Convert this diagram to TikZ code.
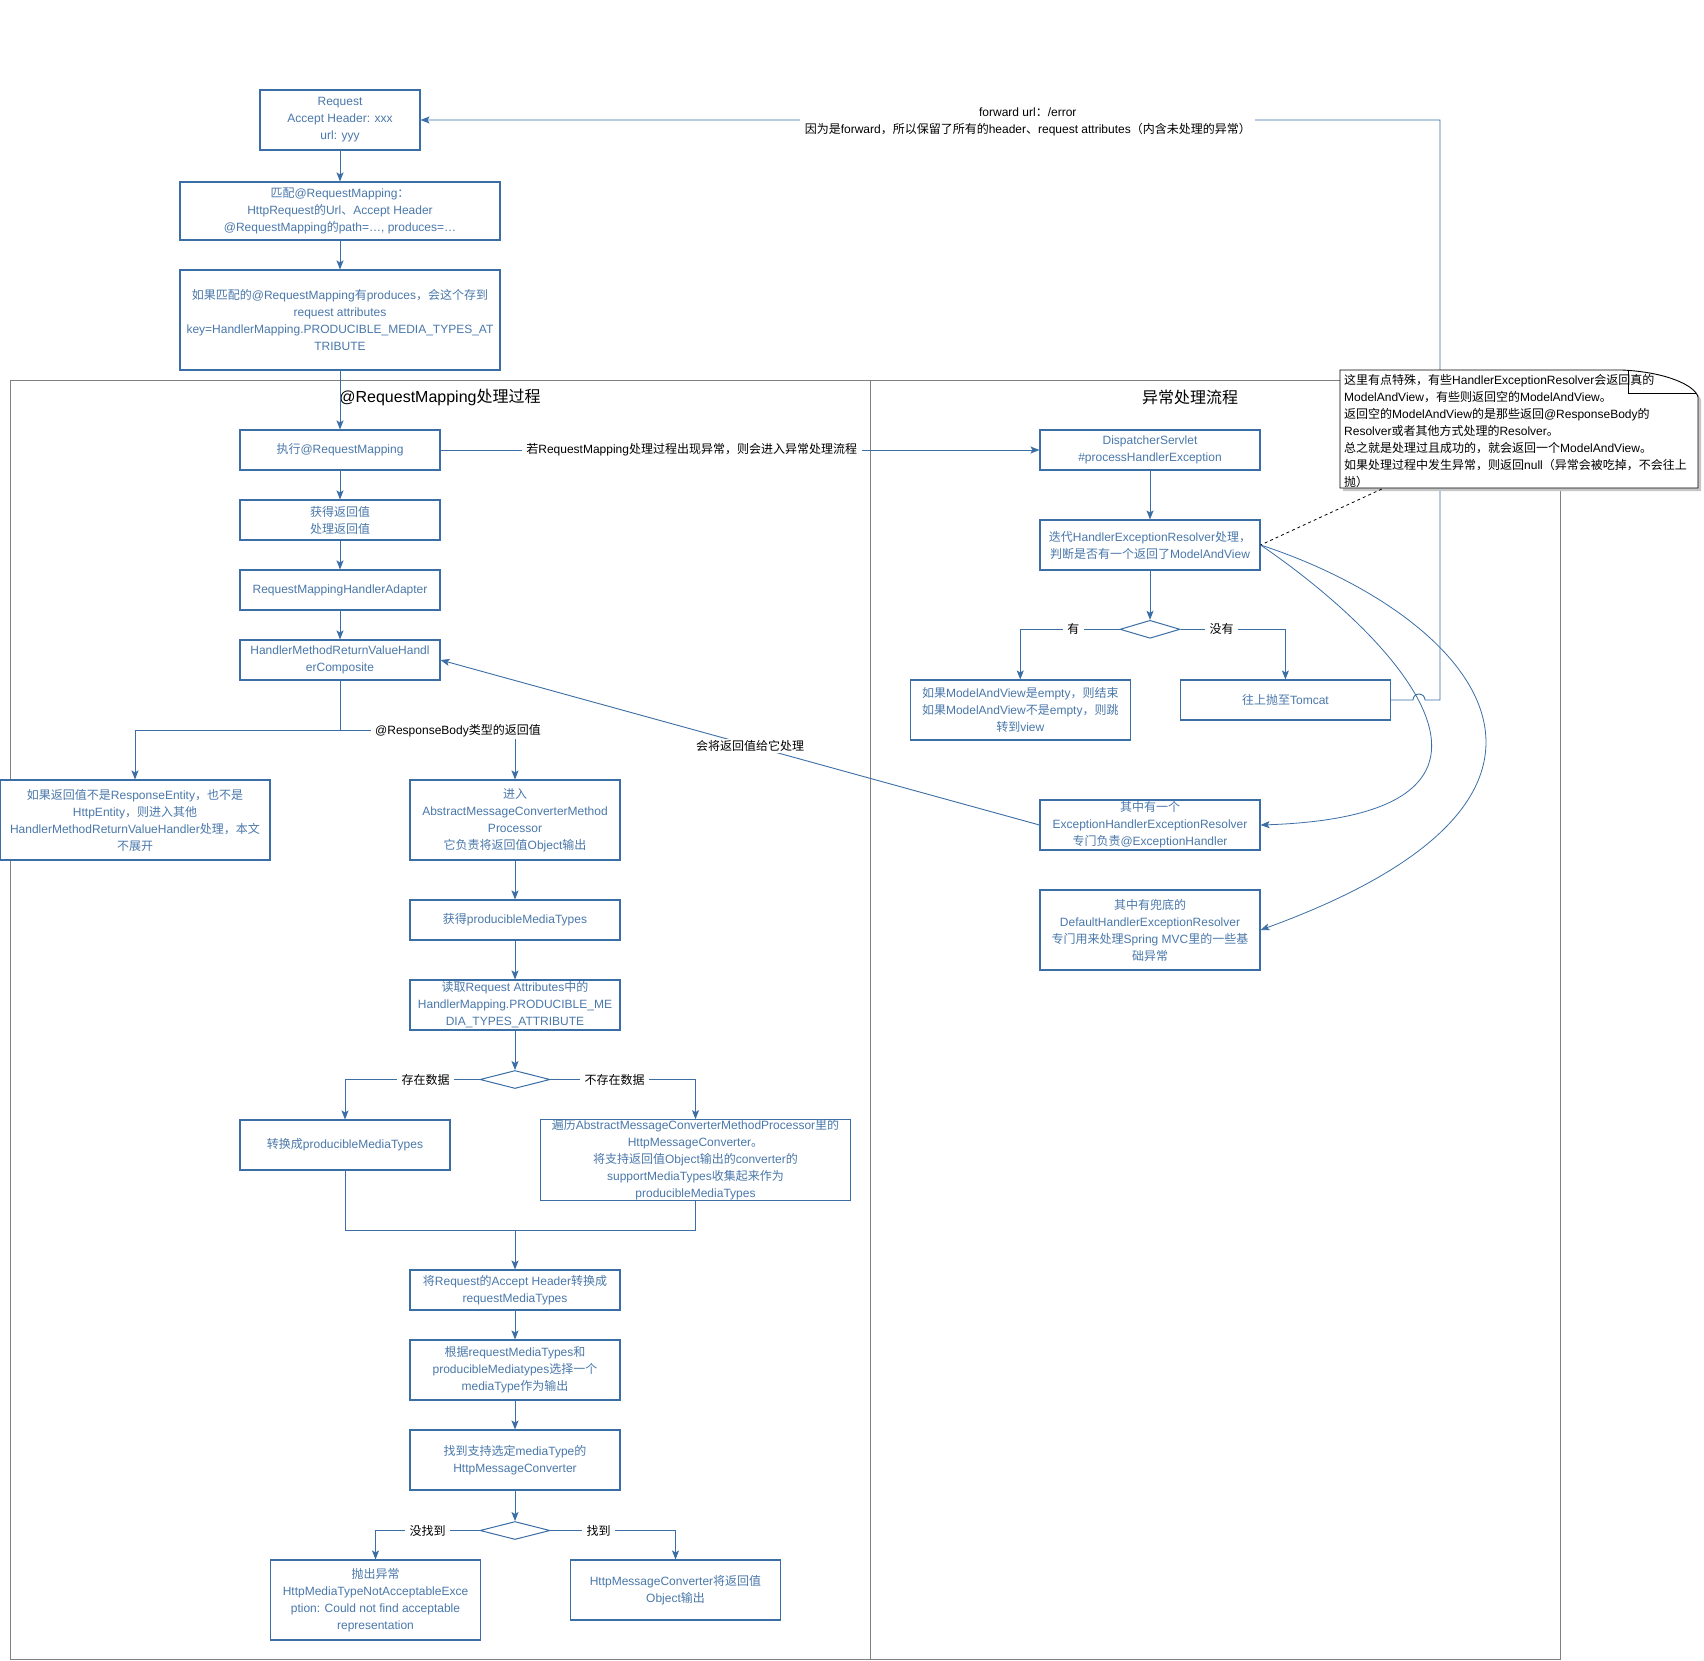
\documentclass[tikz,border=0pt]{standalone}
\usepackage{fontspec}
\setmainfont{Liberation Sans}
\newfontfamily\cjkfont{Noto Sans CJK SC}
\newfontfamily\latinfont{Liberation Sans}
\usetikzlibrary{arrows.meta,shapes.geometric}
\XeTeXinterchartokenstate=1
\newXeTeXintercharclass\cjkclass
\makeatletter
\def\setcjkrange#1#2{\count@=#1\relax\loop\XeTeXcharclass\count@=\cjkclass\relax\ifnum\count@<#2\relax\advance\count@ by 1\relax\repeat}
\makeatother
\setcjkrange{"3000}{"303F}
\setcjkrange{"4E00}{"9FFF}
\setcjkrange{"FF00}{"FFEF}
\XeTeXinterchartoks 0 \cjkclass = {\cjkfont}
\XeTeXinterchartoks 4095 \cjkclass = {\cjkfont}
\XeTeXinterchartoks \cjkclass 0 = {\latinfont}
\XeTeXinterchartoks \cjkclass 4095 = {\latinfont}
\definecolor{lineblue}{HTML}{3A6EA5}
\definecolor{textblue}{HTML}{4A78AA}
\definecolor{panelgray}{HTML}{808080}
\newcommand\boxfont{\fontsize{12}{17}\selectfont}
\newcommand\titlefont{\fontsize{16}{19}\selectfont}
\begin{document}
\begin{tikzpicture}[x=1pt,y=-1pt,
  box/.style={draw=lineblue, line width=1.1pt, text=textblue, align=center, font=\boxfont, inner sep=0pt, fill=white},
  arr/.style={draw=lineblue, line width=0.9pt, -{Stealth[length=9pt,width=7pt,inset=2pt]}},
  ln/.style={draw=lineblue, line width=0.9pt},
  lbl/.style={fill=white, text=black, font=\boxfont, inner xsep=4.5pt, inner ysep=1.5pt, align=center},
  dia/.style={diamond, draw=lineblue, line width=1pt, fill=white, inner sep=0pt, minimum width=70pt, minimum height=18pt},
  panel/.style={draw=panelgray, line width=0.9pt},
  ptitle/.style={text=black, font=\titlefont, inner sep=0pt}]
\useasboundingbox (0,0) rectangle (1704,1661);
\fill[white] (0,0) rectangle (1704,1661);

% panels
\draw[panel] (10,380) rectangle (870,1659.5);
\draw[panel] (870,380) rectangle (1560,1659.5);
\node[ptitle] (t1) at (440,397) {@RequestMapping处理过程};
\node[ptitle] (t2) at (1190,397) {异常处理流程};

% left column
\node[box, minimum width=160pt, minimum height=60pt] (req) at (340,120) {Request\\Accept Header: xxx\\url: yyy};
\node[box, minimum width=320pt, minimum height=58pt] (match) at (340,211) {匹配@RequestMapping：\\HttpRequest的Url、Accept Header\\@RequestMapping的path=…, produces=…};
\node[box, minimum width=320pt, minimum height=100pt] (attr) at (340,320) {如果匹配的@RequestMapping有produces，会这个存到\\request attributes\\key=HandlerMapping.PRODUCIBLE\_MEDIA\_TYPES\_AT\\TRIBUTE};
\node[box, minimum width=200pt, minimum height=40pt] (exec) at (340,450) {执行@RequestMapping};
\node[box, minimum width=200pt, minimum height=40pt] (getret) at (340,520) {获得返回值\\处理返回值};
\node[box, minimum width=200pt, minimum height=40pt] (rmha) at (340,590) {RequestMappingHandlerAdapter};
\node[box, minimum width=200pt, minimum height=40pt] (comp) at (340,660) {HandlerMethodReturnValueHandl\\erComposite};
\node[box, minimum width=270pt, minimum height=80pt] (other) at (135,820) {如果返回值不是ResponseEntity，也不是\\HttpEntity，则进入其他\\HandlerMethodReturnValueHandler处理，本文\\不展开};
\node[box, minimum width=210pt, minimum height=80pt] (enter) at (515,820) {进入\\AbstractMessageConverterMethod\\Processor\\它负责将返回值Object输出};
\node[box, minimum width=210pt, minimum height=40pt] (getpmt) at (515,920) {获得producibleMediaTypes};
\node[box, minimum width=210pt, minimum height=50pt] (read) at (515,1005) {读取Request Attributes中的\\HandlerMapping.PRODUCIBLE\_ME\\DIA\_TYPES\_ATTRIBUTE};
\node[dia] (d1) at (515,1079.5) {};
\node[box, minimum width=210pt, minimum height=50pt] (conv) at (345,1145) {转换成producibleMediaTypes};
\node[box, minimum width=310pt, minimum height=80pt] (trav) at (695.5,1160) {遍历AbstractMessageConverterMethodProcessor里的\\HttpMessageConverter。\\将支持返回值Object输出的converter的\\supportMediaTypes收集起来作为\\producibleMediaTypes};
\node[box, minimum width=210pt, minimum height=40pt] (reqmt) at (515,1290) {将Request的Accept Header转换成\\requestMediaTypes};
\node[box, minimum width=210pt, minimum height=60pt] (choose) at (515,1370) {根据requestMediaTypes和\\producibleMediatypes选择一个\\mediaType作为输出};
\node[box, minimum width=210pt, minimum height=60pt] (find) at (515,1460) {找到支持选定mediaType的\\HttpMessageConverter};
\node[dia] (d2) at (515,1530.5) {};
\node[box, minimum width=210pt, minimum height=80pt] (throw) at (375.5,1600) {抛出异常\\HttpMediaTypeNotAcceptableExce\\ption: Could not find acceptable\\representation};
\node[box, minimum width=210pt, minimum height=60pt] (output) at (675.5,1590) {HttpMessageConverter将返回值\\Object输出};

% right column
\node[box, minimum width=220pt, minimum height=40pt] (ds) at (1150,450) {DispatcherServlet\\\#processHandlerException};
\node[box, minimum width=220pt, minimum height=50pt] (iter) at (1150,545) {迭代HandlerExceptionResolver处理，\\判断是否有一个返回了ModelAndView};
\node[dia, minimum width=60pt] (d3) at (1150,629.3) {};
\node[box, minimum width=220pt, minimum height=60pt] (mav) at (1020.25,710) {如果ModelAndView是empty，则结束\\如果ModelAndView不是empty，则跳\\转到view};
\node[box, minimum width=210pt, minimum height=40pt] (tomcat) at (1285.4,700) {往上抛至Tomcat};
\node[box, minimum width=220pt, minimum height=50pt] (eher) at (1150,825) {其中有一个\\ExceptionHandlerExceptionResolver\\专门负责@ExceptionHandler};
\node[box, minimum width=220pt, minimum height=80pt] (dher) at (1150,930) {其中有兜底的\\DefaultHandlerExceptionResolver\\专门用来处理Spring MVC里的一些基\\础异常};

% connectors left
\draw[arr] (req) -- (match);
\draw[arr] (match) -- (attr);
\draw[arr] (attr) -- (exec);
\draw[arr] (exec) -- (getret);
\draw[arr] (getret) -- (rmha);
\draw[arr] (rmha) -- (comp);
\coordinate (br) at (340,730);
\draw[arr] (comp.south) -- (br) -| (other.north);
\draw[arr] (br) -| (enter.north);
\node[lbl] (lrb) at (458,731) {@ResponseBody类型的返回值};
\draw[arr] (enter) -- (getpmt);
\draw[arr] (getpmt) -- (read);
\draw[arr] (read) -- (d1);
\draw[arr] (d1.west) -| (conv.north);
\node[lbl] (l1) at (425.5,1079.5) {存在数据};
\draw[arr] (d1.east) -| (trav.north);
\node[lbl] (l2) at (614.5,1079.5) {不存在数据};
\coordinate (mg) at (515,1230);
\draw[ln] (conv.south) |- (mg) -| (trav.south);
\draw[arr] (mg) -- (reqmt.north);
\draw[arr] (reqmt) -- (choose);
\draw[arr] (choose) -- (find);
\draw[arr] (find) -- (d2);
\draw[arr] (d2.west) -| (throw.north);
\node[lbl] (l3) at (427.5,1530.5) {没找到};
\draw[arr] (d2.east) -| (output.north);
\node[lbl] (l4) at (598.5,1530.5) {找到};

% connectors across
\draw[arr] (exec.east) -- (ds.west);
\node[lbl] (l5) at (691.7,450) {若RequestMapping处理过程出现异常，则会进入异常处理流程};
\draw[arr] (ds) -- (iter);
\draw[arr] (iter) -- (d3);
\draw[arr] (d3.west) -| (mav.north);
\node[lbl] (l6) at (1073.4,629.3) {有};
\draw[arr] (d3.east) -| (tomcat.north);
\node[lbl] (l7) at (1221.5,629.3) {没有};
\draw[arr] (eher.west) -- (comp.east);
\node[lbl] (l8) at (750,746) {会将返回值给它处理};
\draw[arr, line width=0.8pt] (iter.east) .. controls (1400,640) and (1560,815) .. (eher.east);
\draw[arr, line width=0.8pt] (iter.east) .. controls (1460,610) and (1645,790) .. (dher.east);
\coordinate (jmp) at (1413,700);
\coordinate (up) at (1440,700);
\coordinate (top) at (1440,120);
\draw[arr] (tomcat.east) -- (jmp) arc[start angle=180, end angle=0, radius=6pt] -- (up) -- (top) -- (req.east);
\node[lbl] (l9) at (1027.8,121.7) {forward url：/error\\因为是forward，所以保留了所有的header、request attributes（内含未处理的异常）};

% note
\fill[gray!45] (1343,373) -- (1625,373) .. controls (1668,375) and (1698,388) .. (1701,400) -- (1701,491) -- (1343,491) -- cycle;
\draw[black, line width=0.9pt, fill=white] (1340,370) -- (1622,370) .. controls (1665,372) and (1695,385) .. (1698,397) -- (1698,488) -- (1340,488) -- cycle;
\draw[black, line width=0.8pt] (1628,371) -- (1628,393) -- (1696,393);
\node[anchor=west, align=left, font=\boxfont, inner sep=0pt, text=black] (notetext) at (1344,431) {这里有点特殊，有些HandlerExceptionResolver会返回真的\\ModelAndView，有些则返回空的ModelAndView。\\返回空的ModelAndView的是那些返回@ResponseBody的\\Resolver或者其他方式处理的Resolver。\\总之就是处理过且成功的，就会返回一个ModelAndView。\\如果处理过程中发生异常，则返回null（异常会被吃掉，不会往上\\抛）};
\coordinate (nt) at (1381.8,489);
\draw[black, dashed, line width=0.8pt] (nt) -- (iter.east);
\end{tikzpicture}
\end{document}
